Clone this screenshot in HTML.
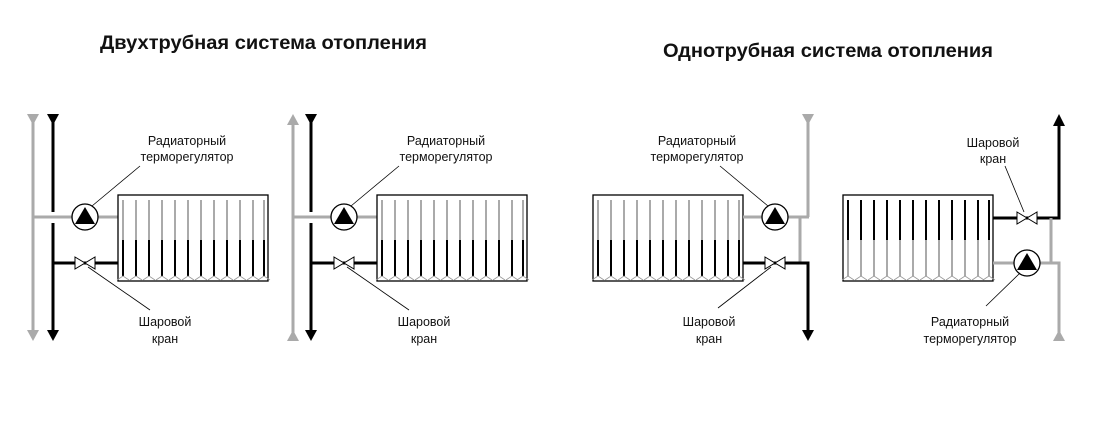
<!DOCTYPE html>
<html><head><meta charset="utf-8"><style>
html,body{margin:0;padding:0;background:#fff;}
svg{display:block;}
text{font-family:"Liberation Sans","DejaVu Sans",sans-serif;fill:#111;}
.lbl{font-size:12.5px;text-anchor:middle;}
.t{font-size:19px;font-weight:bold;}
</style></head><body>
<svg width="1103" height="434" viewBox="0 0 1103 434" xmlns="http://www.w3.org/2000/svg">
<defs>
  <g id="finA">
    <line x1="0" y1="200" x2="0" y2="240" stroke="#aaa" stroke-width="2"/>
    <line x1="0" y1="240" x2="0" y2="276" stroke="#000" stroke-width="2"/>
    <polyline points="-6,280 0,276 6,280" fill="none" stroke="#999" stroke-width="0.8"/>
  </g>
  <g id="finB">
    <line x1="0" y1="200" x2="0" y2="240" stroke="#000" stroke-width="2"/>
    <line x1="0" y1="240" x2="0" y2="276" stroke="#aaa" stroke-width="2"/>
    <polyline points="-6,280 0,276 6,280" fill="none" stroke="#999" stroke-width="0.8"/>
  </g>
  <g id="radA">
    <rect x="0" y="195" width="150" height="86" fill="#fff" stroke="#000" stroke-width="1.3"/>
    <use href="#finA" x="5"/><use href="#finA" x="18"/><use href="#finA" x="31"/><use href="#finA" x="44"/>
    <use href="#finA" x="57"/><use href="#finA" x="70"/><use href="#finA" x="83"/><use href="#finA" x="96"/>
    <use href="#finA" x="109"/><use href="#finA" x="122"/><use href="#finA" x="135"/><use href="#finA" x="146"/>
  </g>
  <g id="radB">
    <rect x="0" y="195" width="150" height="86" fill="#fff" stroke="#000" stroke-width="1.3"/>
    <use href="#finB" x="5"/><use href="#finB" x="18"/><use href="#finB" x="31"/><use href="#finB" x="44"/>
    <use href="#finB" x="57"/><use href="#finB" x="70"/><use href="#finB" x="83"/><use href="#finB" x="96"/>
    <use href="#finB" x="109"/><use href="#finB" x="122"/><use href="#finB" x="135"/><use href="#finB" x="146"/>
  </g>
  <g id="therm">
    <circle cx="0" cy="0" r="13" fill="#fff" stroke="#000" stroke-width="1.3"/>
    <polygon points="0,-10 10,7 -10,7" fill="#000"/>
  </g>
  <g id="valve">
    <polygon points="-10,-6 10,6 10,-6 -10,6" fill="#fff" stroke="#000" stroke-width="1"/>
  </g>
</defs>

<text class="t" x="100" y="49" textLength="327" lengthAdjust="spacingAndGlyphs">Двухтрубная система отопления</text>
<text class="t" x="663" y="57" textLength="330" lengthAdjust="spacingAndGlyphs">Однотрубная система отопления</text>

<!-- Panel 1 -->
<line x1="33" y1="118" x2="33" y2="332" stroke="#aaa" stroke-width="3"/>
<polygon points="27,114 39,114 33,125" fill="#aaa"/>
<polygon points="27,330 39,330 33,341" fill="#aaa"/>
<line x1="33" y1="217" x2="119" y2="217" stroke="#aaa" stroke-width="3"/>
<line x1="53" y1="118" x2="53" y2="212" stroke="#000" stroke-width="3"/>
<line x1="53" y1="223" x2="53" y2="332" stroke="#000" stroke-width="3"/>
<polygon points="47,114 59,114 53,125" fill="#000"/>
<polygon points="47,330 59,330 53,341" fill="#000"/>
<line x1="53" y1="263" x2="119" y2="263" stroke="#000" stroke-width="3"/>
<use href="#radA" x="118"/>
<use href="#therm" x="85" y="217"/>
<use href="#valve" x="85" y="263"/>
<line x1="140" y1="166" x2="92" y2="206" stroke="#000" stroke-width="0.8"/>
<line x1="88" y1="267" x2="150" y2="310" stroke="#000" stroke-width="0.8"/>
<text class="lbl" x="187" y="145">Радиаторный</text>
<text class="lbl" x="187" y="161">терморегулятор</text>
<text class="lbl" x="165" y="326">Шаровой</text>
<text class="lbl" x="165" y="343">кран</text>

<!-- Panel 2 -->
<line x1="293" y1="122" x2="293" y2="336" stroke="#aaa" stroke-width="3"/>
<polygon points="287,125 299,125 293,114" fill="#aaa"/>
<polygon points="287,341 299,341 293,330" fill="#aaa"/>
<line x1="293" y1="217" x2="378" y2="217" stroke="#aaa" stroke-width="3"/>
<line x1="311" y1="118" x2="311" y2="212" stroke="#000" stroke-width="3"/>
<line x1="311" y1="223" x2="311" y2="332" stroke="#000" stroke-width="3"/>
<polygon points="305,114 317,114 311,125" fill="#000"/>
<polygon points="305,330 317,330 311,341" fill="#000"/>
<line x1="311" y1="263" x2="378" y2="263" stroke="#000" stroke-width="3"/>
<use href="#radA" x="377"/>
<use href="#therm" x="344" y="217"/>
<use href="#valve" x="344" y="263"/>
<line x1="399" y1="166" x2="351" y2="206" stroke="#000" stroke-width="0.8"/>
<line x1="347" y1="267" x2="409" y2="310" stroke="#000" stroke-width="0.8"/>
<text class="lbl" x="446" y="145">Радиаторный</text>
<text class="lbl" x="446" y="161">терморегулятор</text>
<text class="lbl" x="424" y="326">Шаровой</text>
<text class="lbl" x="424" y="343">кран</text>

<!-- Panel 3 -->
<use href="#radA" x="593"/>
<line x1="808" y1="118" x2="808" y2="217" stroke="#aaa" stroke-width="3"/>
<polygon points="802,114 814,114 808,125" fill="#aaa"/>
<line x1="743" y1="217" x2="809" y2="217" stroke="#aaa" stroke-width="3"/>
<line x1="800" y1="217" x2="800" y2="263" stroke="#aaa" stroke-width="3"/>
<polyline points="743,263 808,263 808,332" fill="none" stroke="#000" stroke-width="3"/>
<polygon points="802,330 814,330 808,341" fill="#000"/>
<use href="#therm" x="775" y="217"/>
<use href="#valve" x="775" y="263"/>
<line x1="720" y1="166" x2="768" y2="206" stroke="#000" stroke-width="0.8"/>
<line x1="771" y1="267" x2="718" y2="308" stroke="#000" stroke-width="0.8"/>
<text class="lbl" x="697" y="145">Радиаторный</text>
<text class="lbl" x="697" y="161">терморегулятор</text>
<text class="lbl" x="709" y="326">Шаровой</text>
<text class="lbl" x="709" y="343">кран</text>

<!-- Panel 4 -->
<use href="#radB" x="843"/>
<polyline points="993,218 1059,218 1059,122" fill="none" stroke="#000" stroke-width="3"/>
<polygon points="1053,126 1065,126 1059,114" fill="#000"/>
<line x1="1051" y1="218" x2="1051" y2="263" stroke="#aaa" stroke-width="3"/>
<polyline points="993,263 1059,263 1059,336" fill="none" stroke="#aaa" stroke-width="3"/>
<polygon points="1053,341 1065,341 1059,330" fill="#aaa"/>
<use href="#valve" x="1027" y="218"/>
<use href="#therm" x="1027" y="263"/>
<line x1="1005" y1="166" x2="1024" y2="212" stroke="#000" stroke-width="0.8"/>
<line x1="1020" y1="273" x2="986" y2="306" stroke="#000" stroke-width="0.8"/>
<text class="lbl" x="993" y="147">Шаровой</text>
<text class="lbl" x="993" y="163">кран</text>
<text class="lbl" x="970" y="326">Радиаторный</text>
<text class="lbl" x="970" y="343">терморегулятор</text>
</svg>
</body></html>
